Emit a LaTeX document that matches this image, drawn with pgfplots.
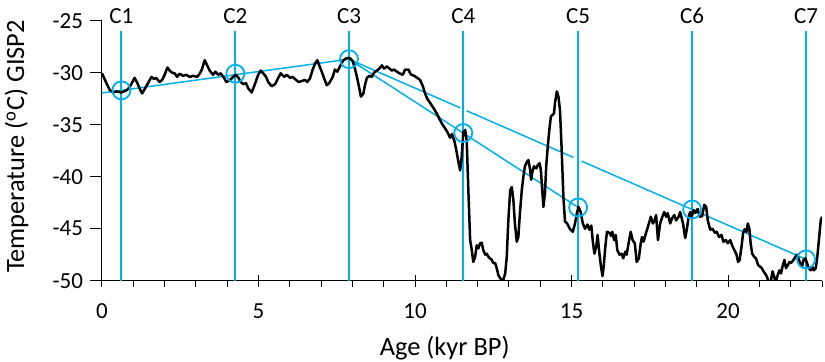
\documentclass[border=0pt]{standalone}
\usepackage{pgfplots}
\pgfplotsset{compat=1.18}
\usepackage{pgfplotstable}
\usepackage{fontspec}
\setmainfont{Carlito}
\definecolor{cy}{RGB}{0,176,240}
\pgfplotstableread{
x y
0.00 -30.06
0.14 -31.0
0.25 -31.66
0.35 -31.9
0.46 -31.8
0.62 -31.9
0.78 -31.7
0.88 -31.4
0.97 -30.9
1.04 -30.5
1.13 -31.0
1.20 -31.5
1.28 -32.0
1.36 -31.6
1.47 -31.0
1.58 -30.4
1.66 -30.6
1.73 -30.5
1.84 -30.9
1.92 -30.7
2.00 -30.2
2.09 -29.5
2.16 -29.8
2.24 -30.0
2.32 -30.06
2.40 -30.4
2.48 -30.1
2.59 -30.3
2.69 -30.2
2.80 -30.4
2.91 -30.3
3.04 -30.4
3.12 -30.1
3.19 -29.7
3.28 -28.8
3.36 -29.3
3.44 -29.8
3.55 -30.2
3.62 -29.9
3.71 -30.2
3.79 -30.06
3.90 -30.5
3.97 -30.9
4.09 -30.7
4.19 -30.4
4.28 -30.2
4.36 -30.5
4.43 -30.9
4.52 -31.1
4.60 -31.0
4.67 -31.5
4.78 -31.9
4.86 -31.3
4.92 -30.8
4.99 -30.2
5.07 -29.8
5.15 -30.06
5.24 -30.4
5.31 -30.9
5.42 -31.3
5.53 -31.1
5.63 -30.5
5.71 -30.06
5.82 -30.4
5.90 -30.2
6.01 -30.5
6.09 -30.4
6.20 -30.7
6.28 -30.9
6.38 -30.8
6.49 -30.7
6.56 -30.9
6.65 -30.5
6.73 -29.7
6.81 -29.1
6.88 -28.8
6.94 -29.3
7.02 -29.9
7.09 -30.5
7.18 -31.2
7.26 -31.0
7.37 -30.4
7.44 -29.7
7.52 -29.9
7.60 -29.4
7.71 -28.8
7.82 -28.6
7.92 -28.6
8.01 -28.9
8.08 -29.6
8.15 -30.5
8.22 -31.5
8.27 -32.3
8.35 -32.0
8.40 -31.2
8.46 -30.5
8.54 -30.3
8.62 -30.4
8.69 -30.0
8.78 -29.8
8.86 -29.6
8.94 -29.3
9.01 -29.6
9.10 -29.4
9.18 -29.6
9.26 -29.8
9.33 -29.7
9.42 -29.9
9.50 -30.06
9.61 -30.2
9.68 -29.7
9.79 -29.7
9.86 -30.15
9.97 -30.3
10.07 -30.5
10.16 -30.7
10.25 -31.3
10.32 -32.0
10.39 -32.5
10.48 -32.9
10.59 -33.4
10.69 -33.9
10.78 -34.45
10.86 -34.9
10.96 -35.35
11.03 -35.7
11.12 -36.25
11.18 -35.9
11.25 -36.5
11.31 -37.3
11.38 -38.5
11.44 -39.4
11.49 -38.1
11.54 -35.8
11.60 -35.5
11.65 -36.5
11.71 -41.9
11.76 -46.1
11.81 -47.0
11.86 -48.2
11.92 -47.7
11.97 -46.6
12.02 -46.9
12.08 -46.4
12.13 -46.35
12.18 -47.05
12.24 -47.5
12.29 -47.4
12.34 -47.7
12.45 -48.0
12.50 -48.3
12.56 -48.3
12.61 -48.8
12.66 -49.45
12.75 -49.9
12.82 -49.9
12.88 -49.3
12.93 -47.7
12.98 -44.2
13.04 -41.3
13.09 -41.0
13.14 -42.2
13.19 -44.5
13.25 -46.25
13.30 -45.8
13.35 -43.5
13.41 -41.3
13.46 -40.0
13.51 -39.0
13.57 -38.6
13.62 -38.4
13.67 -39.2
13.71 -40.3
13.75 -39.5
13.80 -39.0
13.87 -39.2
13.92 -38.9
13.98 -38.7
14.02 -39.4
14.07 -41.6
14.10 -42.9
14.15 -41.6
14.19 -39.0
14.24 -37.1
14.29 -35.5
14.34 -34.2
14.38 -34.1
14.44 -33.9
14.47 -32.9
14.53 -31.8
14.58 -32.3
14.63 -33.6
14.68 -37.1
14.74 -42.0
14.79 -44.3
14.86 -44.5
14.95 -45.05
15.04 -45.3
15.11 -44.5
15.17 -43.5
15.22 -42.9
15.29 -43.4
15.36 -44.5
15.43 -45.0
15.51 -44.6
15.57 -45.1
15.63 -44.7
15.68 -46.25
15.73 -47.4
15.79 -46.7
15.83 -45.6
15.89 -47.4
15.94 -48.65
15.99 -49.55
16.03 -48.5
16.08 -46.7
16.13 -45.3
16.21 -45.4
16.26 -45.7
16.30 -45.3
16.36 -46.1
16.41 -45.6
16.46 -47.05
16.53 -47.5
16.60 -47.4
16.65 -47.85
16.72 -47.2
16.76 -47.5
16.83 -46.25
16.89 -45.3
16.95 -46.1
17.02 -46.4
17.08 -48.2
17.15 -47.85
17.21 -46.4
17.25 -45.8
17.30 -46.25
17.36 -45.6
17.42 -45.0
17.49 -44.3
17.53 -43.85
17.60 -44.5
17.65 -44.2
17.70 -43.7
17.76 -46.1
17.83 -44.5
17.90 -43.85
17.96 -43.4
18.02 -43.85
18.07 -43.5
18.15 -44.5
18.21 -44.0
18.28 -43.7
18.34 -44.2
18.42 -43.85
18.47 -43.4
18.56 -44.5
18.63 -45.9
18.68 -45.1
18.74 -43.85
18.79 -43.4
18.84 -43.85
18.90 -43.2
18.95 -43.5
19.03 -43.1
19.09 -43.85
19.17 -43.8
19.24 -42.7
19.30 -42.9
19.35 -44.2
19.43 -45.1
19.50 -45.0
19.58 -45.4
19.64 -45.3
19.71 -45.8
19.79 -45.6
19.85 -46.25
19.93 -46.1
19.99 -46.4
20.07 -46.1
20.14 -46.7
20.20 -47.05
20.27 -47.5
20.32 -48.2
20.37 -48.0
20.43 -46.7
20.48 -45.4
20.53 -45.05
20.59 -45.3
20.63 -44.5
20.68 -45.0
20.72 -46.4
20.77 -47.4
20.83 -47.7
20.89 -47.85
20.96 -48.5
21.02 -48.65
21.08 -48.8
21.13 -49.1
21.18 -49.3
21.24 -49.6
21.29 -50.1
21.35 -50.3
21.42 -49.1
21.47 -49.6
21.52 -50.25
21.57 -49.6
21.64 -49.0
21.69 -49.3
21.75 -48.5
21.80 -48.0
21.85 -48.8
21.91 -48.5
21.96 -48.2
22.01 -48.3
22.09 -48.0
22.14 -47.75
22.20 -47.5
22.25 -47.85
22.30 -48.3
22.36 -48.65
22.41 -48.0
22.47 -47.85
22.52 -48.3
22.58 -48.8
22.64 -49.0
22.69 -48.65
22.74 -49.0
22.80 -48.8
22.85 -47.7
22.91 -45.8
22.96 -44.2
23.00 -43.85
}\gisp
\begin{document}
\begin{tikzpicture}
\begin{axis}[
  scale only axis, width=360pt, height=130pt,
  xmin=0, xmax=23, ymin=-50, ymax=-25,
  axis x line=bottom, axis y line=left,
  axis line style={-, line width=0.5pt, black},
  xtick={0,5,10,15,20}, xticklabels={0,5,10,15,20},
  minor xtick={1,2,...,23},
  ytick={-50,-45,-40,-35,-30,-25}, yticklabels={-50,-45,-40,-35,-30,-25},
  xtick align=center, ytick align=outside,
  major tick length=6pt, minor tick length=3pt,
  minor x tick style={yshift=-1.5pt},
  tick style={black, line width=0.5pt},
  ticklabel style={font=\fontsize{11.5}{13}\selectfont},
  xticklabel style={anchor=base, yshift=-16pt},
  label style={font=\fontsize{13.2}{15}\selectfont},
  xlabel={Age (kyr BP)},
  ylabel={Temperature (\textsuperscript{o}C) GISP2},
  xlabel style={at={(axis description cs:0.476,-0.286)}, anchor=base},
  ylabel style={at={(axis description cs:-0.108,0.516)}, anchor=base},
  clip mode=individual,
]
\addplot[cy, line width=1pt] coordinates {(0.62,-26) (0.62,-50)};
\addplot[cy, line width=1pt] coordinates {(4.26,-26) (4.26,-50)};
\addplot[cy, line width=1pt] coordinates {(7.89,-26) (7.89,-50)};
\addplot[cy, line width=1pt] coordinates {(11.54,-26) (11.54,-50)};
\addplot[cy, line width=1pt] coordinates {(15.21,-26) (15.21,-50)};
\addplot[cy, line width=1pt] coordinates {(18.85,-26) (18.85,-50)};
\addplot[cy, line width=1pt] coordinates {(22.49,-26) (22.49,-50)};
\addplot[cy, line width=0.75pt] coordinates {(0,-31.95) (7.89,-28.7)};
\addplot[cy, line width=0.75pt] coordinates {(7.89,-28.7) (15.21,-42.95)};
\addplot[cy, line width=0.75pt, unbounded coords=jump] coordinates {(7.89,-28.7) (11.44,-33.38) (11.5,nan) (11.65,-33.66) (15.06,-38.15) (15.2,nan) (15.32,-38.50) (22.49,-47.95)};
\addplot[black, line width=1.25pt, line join=round] table[x=x,y=y] {\gisp};
\addplot[only marks, mark=o, mark size=4.5pt, cy, mark options={line width=0.9pt}] coordinates {(0.62,-31.7) (4.26,-30.1) (7.89,-28.7) (11.54,-35.8) (15.21,-42.95) (18.85,-43.15) (22.49,-47.95)};
\node[font=\fontsize{11.5}{13}\selectfont, anchor=base] at (axis cs:0.62,-25.3) {C1};
\node[font=\fontsize{11.5}{13}\selectfont, anchor=base] at (axis cs:4.26,-25.3) {C2};
\node[font=\fontsize{11.5}{13}\selectfont, anchor=base] at (axis cs:7.89,-25.3) {C3};
\node[font=\fontsize{11.5}{13}\selectfont, anchor=base] at (axis cs:11.54,-25.3) {C4};
\node[font=\fontsize{11.5}{13}\selectfont, anchor=base] at (axis cs:15.21,-25.3) {C5};
\node[font=\fontsize{11.5}{13}\selectfont, anchor=base] at (axis cs:18.85,-25.3) {C6};
\node[font=\fontsize{11.5}{13}\selectfont, anchor=base] at (axis cs:22.49,-25.3) {C7};
\end{axis}
\pgfresetboundingbox
\path (current axis.south west) ++(-51pt,-40.65pt) rectangle ++(412.5pt,181pt);
\end{tikzpicture}
\end{document}
